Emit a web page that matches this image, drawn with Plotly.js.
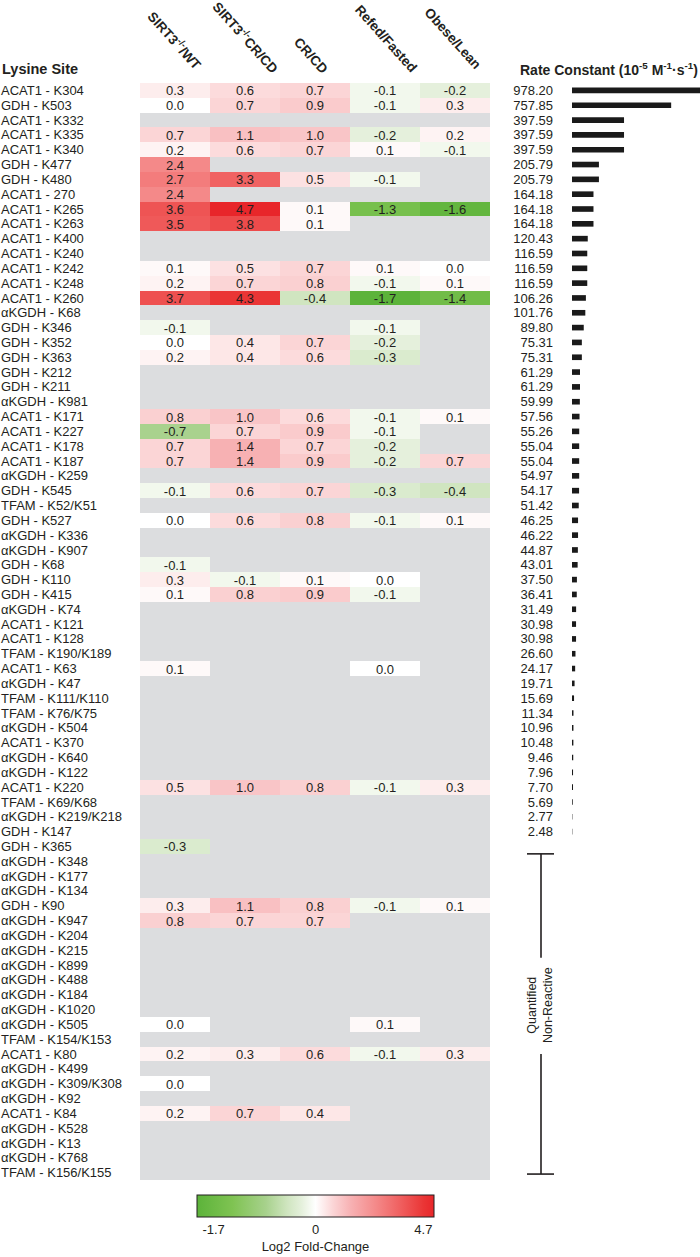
<!DOCTYPE html>
<html>
<head>
<meta charset="utf-8">
<script src="https://cdn.plot.ly/plotly-3.0.1.min.js"></script>
<style>
  html, body { margin: 0; padding: 0; background: #fff; }
  #chart { width: 700px; height: 1257px; }
</style>
</head>
<body>
<div id="chart"></div>
<script>
// Lysine acetylation heatmap + non-enzymatic rate constants
const sites = [
  'ACAT1 - K304', 'GDH - K503', 'ACAT1 - K332', 'ACAT1 - K335', 'ACAT1 - K340',
  'GDH - K477', 'GDH - K480', 'ACAT1 - 270', 'ACAT1 - K265', 'ACAT1 - K263',
  'ACAT1 - K400', 'ACAT1 - K240', 'ACAT1 - K242', 'ACAT1 - K248', 'ACAT1 - K260',
  'αKGDH - K68', 'GDH - K346', 'GDH - K352', 'GDH - K363', 'GDH - K212',
  'GDH - K211', 'αKGDH - K981', 'ACAT1 - K171', 'ACAT1 - K227', 'ACAT1 - K178',
  'ACAT1 - K187', 'αKGDH - K259', 'GDH - K545', 'TFAM - K52/K51', 'GDH - K527',
  'αKGDH - K336', 'αKGDH - K907', 'GDH - K68', 'GDH - K110', 'GDH - K415',
  'αKGDH - K74', 'ACAT1 - K121', 'ACAT1 - K128', 'TFAM - K190/K189', 'ACAT1 - K63',
  'αKGDH - K47', 'TFAM - K111/K110', 'TFAM - K76/K75', 'αKGDH - K504', 'ACAT1 - K370',
  'αKGDH - K640', 'αKGDH - K122', 'ACAT1 - K220', 'TFAM - K69/K68', 'αKGDH - K219/K218',
  'GDH - K147', 'GDH - K365', 'αKGDH - K348', 'αKGDH - K177', 'αKGDH - K134',
  'GDH - K90', 'αKGDH - K947', 'αKGDH - K204', 'αKGDH - K215', 'αKGDH - K899',
  'αKGDH - K488', 'αKGDH - K184', 'αKGDH - K1020', 'αKGDH - K505', 'TFAM - K154/K153',
  'ACAT1 - K80', 'αKGDH - K499', 'αKGDH - K309/K308', 'αKGDH - K92', 'ACAT1 - K84',
  'αKGDH - K528', 'αKGDH - K13', 'αKGDH - K768', 'TFAM - K156/K155'
];

const headers = ['SIRT3<sup>-/-</sup>/WT', 'SIRT3<sup>-/-</sup>CR/CD', 'CR/CD', 'Refed/Fasted', 'Obese/Lean'];

const n = null;
const sirtWT = [0.3, 0.0, n, 0.7, 0.2, 2.4, 2.7, 2.4, 3.6, 3.5,
  n, n, 0.1, 0.2, 3.7, n, -0.1, 0.0, 0.2, n,
  n, n, 0.8, -0.7, 0.7, 0.7, n, -0.1, n, 0.0,
  n, n, -0.1, 0.3, 0.1, n, n, n, n, 0.1,
  n, n, n, n, n, n, n, 0.5, n, n,
  n, -0.3, n, n, n, 0.3, 0.8, n, n, n,
  n, n, n, 0.0, n, 0.2, n, 0.0, n, 0.2,
  n, n, n, n];
const sirtCR = [0.6, 0.7, n, 1.1, 0.6, n, 3.3, n, 4.7, 3.8,
  n, n, 0.5, 0.7, 4.3, n, n, 0.4, 0.4, n,
  n, n, 1.0, 0.7, 1.4, 1.4, n, 0.6, n, 0.6,
  n, n, n, -0.1, 0.8, n, n, n, n, n,
  n, n, n, n, n, n, n, 1.0, n, n,
  n, n, n, n, n, 1.1, 0.7, n, n, n,
  n, n, n, n, n, 0.3, n, n, n, 0.7,
  n, n, n, n];
const crcd = [0.7, 0.9, n, 1.0, 0.7, n, 0.5, n, 0.1, 0.1,
  n, n, 0.7, 0.8, -0.4, n, n, 0.7, 0.6, n,
  n, n, 0.6, 0.9, 0.7, 0.9, n, 0.7, n, 0.8,
  n, n, n, 0.1, 0.9, n, n, n, n, n,
  n, n, n, n, n, n, n, 0.8, n, n,
  n, n, n, n, n, 0.8, 0.7, n, n, n,
  n, n, n, n, n, 0.6, n, n, n, 0.4,
  n, n, n, n];
const refed = [-0.1, -0.1, n, -0.2, 0.1, n, -0.1, n, -1.3, n,
  n, n, 0.1, -0.1, -1.7, n, -0.1, -0.2, -0.3, n,
  n, n, -0.1, -0.1, -0.2, -0.2, n, -0.3, n, -0.1,
  n, n, n, 0.0, -0.1, n, n, n, n, 0.0,
  n, n, n, n, n, n, n, -0.1, n, n,
  n, n, n, n, n, -0.1, n, n, n, n,
  n, n, n, 0.1, n, -0.1, n, n, n, n,
  n, n, n, n];
const obese = [-0.2, 0.3, n, 0.2, -0.1, n, n, n, -1.6, n,
  n, n, 0.0, 0.1, -1.4, n, n, n, n, n,
  n, n, 0.1, n, n, 0.7, n, -0.4, n, 0.1,
  n, n, n, n, n, n, n, n, n, n,
  n, n, n, n, n, n, n, 0.3, n, n,
  n, n, n, n, n, 0.1, n, n, n, n,
  n, n, n, n, n, 0.3, n, n, n, n,
  n, n, n, n];

// second-order rate constants (10^-5 M^-1 s^-1); missing = quantified non-reactive
const rates = [978.20, 757.85, 397.59, 397.59, 397.59, 205.79, 205.79, 164.18, 164.18, 164.18,
  120.43, 116.59, 116.59, 116.59, 106.26, 101.76, 89.80, 75.31, 75.31, 61.29,
  61.29, 59.99, 57.56, 55.26, 55.04, 55.04, 54.97, 54.17, 51.42, 46.25,
  46.22, 44.87, 43.01, 37.50, 36.41, 31.49, 30.98, 30.98, 26.60, 24.17,
  19.71, 15.69, 11.34, 10.96, 10.48, 9.46, 7.96, 7.70, 5.69, 2.77,
  2.48];

const FC_MIN = -1.7, FC_MAX = 4.7;
const INK = '#231f20';
const FONT = 'Liberation Sans, Arial, sans-serif';

const rowIdx = sites.map((_, i) => i);
const series = [sirtWT, sirtCR, crcd, refed, obese];
const colIdx = series.map((_, j) => j);

// diverging scale: negatives scaled to FC_MIN, positives to FC_MAX, 0 in the middle
const norm = v => v == null ? null : (v < 0 ? v / -FC_MIN : v / FC_MAX);
const z = rowIdx.map(i => series.map(s => norm(s[i])));
const txt = rowIdx.map(i => series.map(s => s[i] == null ? '' : s[i].toFixed(1)));

const rateIdx = rates.map((_, i) => i);

// pixel helpers for the fixed 700x1257 page
const W = 700, H = 1257, TOP = 83, BOT = 1180;
const px = x => x / W;
const py = y => (BOT - y) / (BOT - TOP);

const heat = {
  type: 'heatmap', x: colIdx, y: rowIdx, z: z, text: txt,
  texttemplate: '%{text}', textfont: { family: FONT, size: 13, color: INK },
  zmin: -1, zmax: 1, xaxis: 'x', yaxis: 'y', hoverinfo: 'skip',
  colorscale: [
    [0, '#5cb33a'], [0.15, '#7fc352'], [0.29, '#a7d18c'], [0.38, '#cfe5bf'],
    [0.44, '#e4f0db'], [0.5, '#ffffff'], [0.574, '#fbd5d6'], [0.649, '#f7b1b3'],
    [0.755, '#f48989'], [0.851, '#f06262'], [0.957, '#ea3535'], [1, '#e8262a'],
  ],
  colorbar: {
    orientation: 'h', x: px(315.5), xanchor: 'center', y: py(1195), yanchor: 'top',
    len: 237, lenmode: 'pixels', thickness: 22, xpad: 0, ypad: 0,
    outlinecolor: INK, outlinewidth: 1, ticks: '',
    tickmode: 'array', tickvals: [-0.86, 0, 0.91], ticktext: [String(FC_MIN), '0', String(FC_MAX)],
    tickfont: { family: FONT, size: 13, color: INK },
    title: { text: 'Log2 Fold-Change', side: 'bottom', font: { family: FONT, size: 13, color: INK } },
  },
};

const bars = {
  type: 'bar', orientation: 'h', x: rates, y: rateIdx, xaxis: 'x2', yaxis: 'y2',
  width: 0.38, marker: { color: '#1a1a1a', line: { width: 0 } }, hoverinfo: 'skip',
};

const hdrShift = [[0, 43], [1, 46], [-4, 28], [1, 45], [-2, 45]];
const annotations = headers.map((h, j) => ({
  text: h, x: j, xref: 'x', y: 1, yref: 'paper', xanchor: 'center', yanchor: 'middle',
  xshift: hdrShift[j][0], yshift: hdrShift[j][1], textangle: 48, showarrow: false,
  font: { family: FONT, size: 13.5, color: INK, weight: 'bold' },
}));
annotations.push(
  { text: 'Lysine Site', x: 0, xref: 'paper', xanchor: 'left', y: py(69), yref: 'paper', yanchor: 'middle',
    showarrow: false, font: { family: FONT, size: 14.5, color: INK, weight: 'bold' } },
  { text: 'Rate Constant (10<sup>-5</sup> M<sup>-1</sup>·s<sup>-1</sup>)', x: 1, xref: 'paper', xanchor: 'right',
    y: py(69), yref: 'paper', yanchor: 'middle', showarrow: false,
    font: { family: FONT, size: 14, color: INK, weight: 'bold' } },
  { text: 'Quantified<br>Non-Reactive', x: px(540), xref: 'paper', xanchor: 'center', y: 61.7, yref: 'y',
    yanchor: 'middle', textangle: -90, showarrow: false, font: { family: FONT, size: 12.5, color: INK } }
);

// bracket for the quantified non-reactive sites (row coordinates)
const BR = { top: 51.5, gapTop: 58.5, gapBot: 65.0, bot: 73.1, x: px(541), cap0: px(527), cap1: px(554) };
const line = { color: INK, width: 1.6 };
const shapes = [
  { type: 'rect', xref: 'x domain', yref: 'y domain', x0: 0, x1: 1, y0: 0, y1: 1,
    fillcolor: '#dcdddf', line: { width: 0 }, layer: 'below' },
  { type: 'line', xref: 'paper', yref: 'y', x0: BR.x, x1: BR.x, y0: BR.top, y1: BR.gapTop, line },
  { type: 'line', xref: 'paper', yref: 'y', x0: BR.x, x1: BR.x, y0: BR.gapBot, y1: BR.bot, line },
  { type: 'line', xref: 'paper', yref: 'y', x0: BR.cap0, x1: BR.cap1, y0: BR.top, y1: BR.top, line },
  { type: 'line', xref: 'paper', yref: 'y', x0: BR.cap0, x1: BR.cap1, y0: BR.bot, y1: BR.bot, line },
  // zero divider in the colour bar
  { type: 'line', xref: 'paper', yref: 'paper', x0: px(315), x1: px(315), y0: py(1195), y1: py(1217),
    line: { color: INK, width: 1 } },
];

const layout = {
  width: W, height: H, margin: { l: 0, r: 0, t: TOP, b: H - BOT },
  paper_bgcolor: '#fff', plot_bgcolor: 'rgba(0,0,0,0)', showlegend: false,
  font: { family: FONT, color: INK },
  xaxis: { domain: [px(140), px(490)], range: [-0.5, 4.5], showticklabels: false, ticks: '',
    showgrid: false, zeroline: false, showline: false, anchor: 'y' },
  yaxis: { range: [sites.length - 0.5, -0.5], side: 'right', anchor: 'free', position: 0,
    tickmode: 'array', tickvals: rowIdx, ticktext: sites, ticks: '',
    tickfont: { family: FONT, size: 13, color: INK }, showgrid: false, zeroline: false, showline: false },
  xaxis2: { domain: [px(572), 1], range: [0, rates[0]], visible: false, anchor: 'y2' },
  yaxis2: { matches: 'y', anchor: 'x2', side: 'left', tickmode: 'array', tickvals: rateIdx,
    ticktext: rates.map(r => r.toFixed(2)), ticks: '', ticklabelstandoff: 18,
    tickfont: { family: FONT, size: 13, color: INK }, showgrid: false, zeroline: false, showline: false },
  annotations, shapes,
};

Plotly.newPlot('chart', [heat, bars], layout, { staticPlot: true });
</script>
</body>
</html>
